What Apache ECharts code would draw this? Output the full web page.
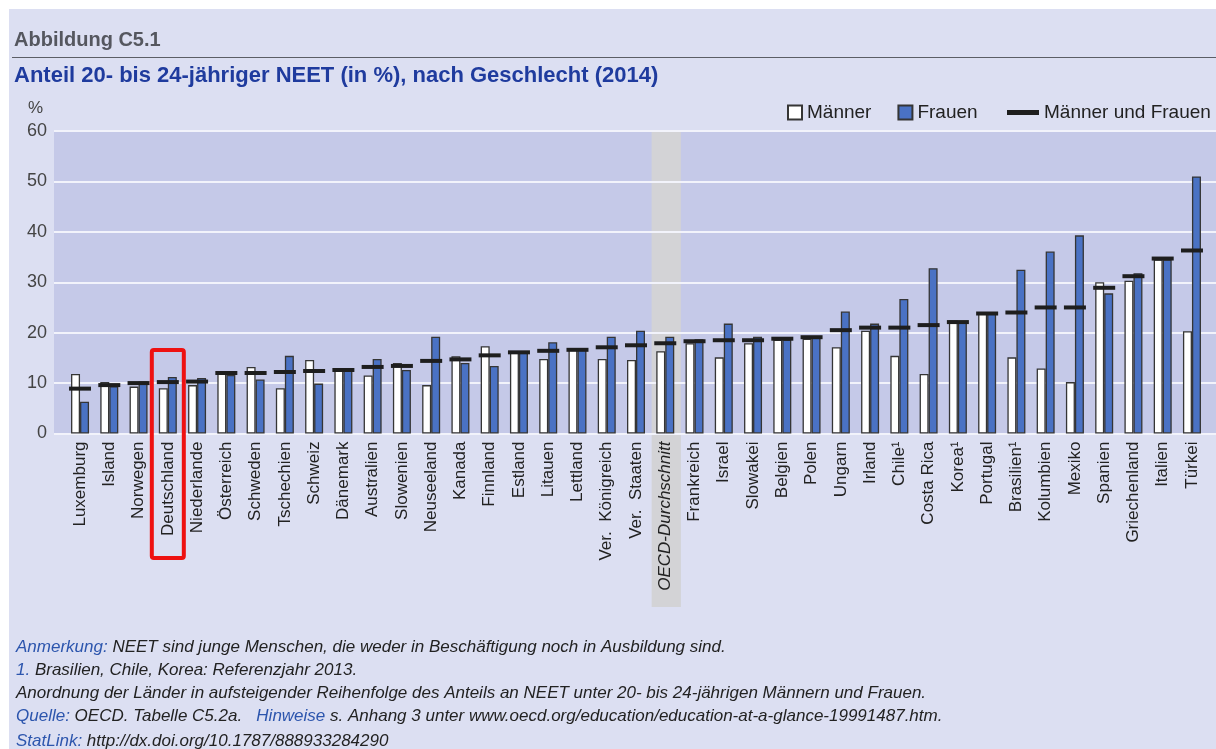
<!DOCTYPE html>
<html>
<head>
<meta charset="utf-8">
<script src="https://cdn.jsdelivr.net/npm/echarts@6/dist/echarts.min.js"></script>
<style>
  html, body { margin: 0; padding: 0; background: #fff; }
  .wrap { position: relative; width: 1216px; height: 749px; overflow: hidden; }
  .paper { position: absolute; left: 9px; top: 9px; right: 0; bottom: 0; background: #dcdff2; }
  #chart { position: absolute; left: 0; top: 0; width: 1216px; height: 749px; }
</style>
</head>
<body>
<div class="wrap">
  <div class="paper"></div>
  <div id="chart"></div>
</div>
<script>
  // Länder, aufsteigend nach Anteil NEET (Männer und Frauen)
  const laender = ['Luxemburg', 'Island', 'Norwegen', 'Deutschland', 'Niederlande', 'Österreich', 'Schweden',
    'Tschechien', 'Schweiz', 'Dänemark', 'Australien', 'Slowenien', 'Neuseeland', 'Kanada', 'Finnland',
    'Estland', 'Litauen', 'Lettland', 'Ver.  Königreich', 'Ver.  Staaten', 'OECD-Durchschnitt', 'Frankreich',
    'Israel', 'Slowakei', 'Belgien', 'Polen', 'Ungarn', 'Irland', 'Chile¹', 'Costa Rica', 'Korea¹',
    'Portugal', 'Brasilien¹', 'Kolumbien', 'Mexiko', 'Spanien', 'Griechenland', 'Italien', 'Türkei']
  const maenner = [11.8, 10.2, 9.3, 9.0, 9.6, 12.2, 13.2, 9.0, 14.6, 12.5, 11.5, 14.0, 9.6, 15.3, 17.3,
    16.1, 14.8, 16.6, 14.8, 14.6, 16.3, 17.9, 15.1, 17.9, 18.6, 18.8, 17.1, 20.4, 15.4, 11.8, 22.4,
    23.8, 15.1, 12.9, 10.2, 30.0, 30.3, 34.5, 20.3]
  const frauen = [6.3, 9.4, 10.3, 11.2, 11.0, 11.6, 10.7, 15.4, 9.9, 12.5, 14.8, 12.6, 19.2, 14.0, 13.4,
    16.1, 18.1, 16.6, 19.2, 20.4, 19.2, 18.7, 21.8, 19.2, 18.6, 19.2, 24.2, 21.8, 26.7, 32.8, 22.0,
    23.8, 32.5, 36.1, 39.3, 27.8, 31.8, 34.5, 51.0]
  const gesamt = [8.9, 9.6, 10.0, 10.2, 10.3, 12.0, 12.0, 12.2, 12.4, 12.6, 13.2, 13.4, 14.4, 14.7, 15.5,
    16.1, 16.4, 16.6, 17.1, 17.5, 17.9, 18.3, 18.5, 18.5, 18.8, 19.1, 20.5, 21.0, 21.0, 21.5, 22.1,
    23.8, 24.0, 25.0, 25.0, 28.9, 31.2, 34.7, 36.3]
  const yMin = 0
  const yMax = 60
  const yStep = 10

  const sans = '"Liberation Sans", Arial, sans-serif'
  const blau = '#4a72c4'
  const textBlau = '#2c55ad'

  const chart = echarts.init(document.getElementById('chart'), null, { renderer: 'canvas' })

  const option = {
    backgroundColor: 'transparent',
    animation: false,
    textStyle: { fontFamily: sans },
    grid: [
      // Hintergrund + Gitterlinien (volle Breite)
      { left: 54, right: 0, top: 131, height: 302.5, show: true, backgroundColor: '#c5c9e8', borderWidth: 0, z: 0 },
      // Balken
      { left: 65.4, width: 1141.2, top: 131, height: 302.5, z: 3 }
    ],
    xAxis: [
      { gridIndex: 0, type: 'value', min: 0, max: 1, show: false },
      {
        gridIndex: 1,
        type: 'category',
        data: laender,
        z: 3,
        axisLine: { show: false },
        axisTick: { show: false },
        axisLabel: {
          interval: 0,
          rotate: 90,
          margin: 8,
          fontSize: 17,
          color: '#222',
          fontFamily: sans,
          formatter: function(v) {
            return v === 'OECD-Durchschnitt' ? '{i|' + v + '}' : v
          },
          rich: { i: { fontStyle: 'italic', fontSize: 17, color: '#222', fontFamily: sans } }
        }
      }
    ],
    yAxis: [
      {
        gridIndex: 0,
        type: 'value',
        min: yMin,
        max: yMax,
        interval: yStep,
        z: 2,
        axisLine: { show: false },
        axisTick: { show: false },
        axisLabel: { fontSize: 18, color: '#444', margin: 7, fontFamily: sans },
        splitLine: { lineStyle: { color: '#f2f3fb', width: 2 } }
      },
      { gridIndex: 1, type: 'value', min: yMin, max: yMax, show: false }
    ],
    legend: [
      {
        data: ['Männer', 'Frauen'],
        left: 782,
        top: 98,
        icon: 'rect',
        itemWidth: 14,
        itemHeight: 14,
        itemGap: 26,
        textStyle: { fontSize: 19, color: '#222', fontFamily: sans }
      },
      {
        data: ['Männer und Frauen'],
        left: 1002,
        top: 98,
        icon: 'rect',
        itemWidth: 32,
        itemHeight: 5,
        textStyle: { fontSize: 19, color: '#222', fontFamily: sans }
      }
    ],
    series: [
      {
        name: 'Männer',
        type: 'bar',
        xAxisIndex: 1,
        yAxisIndex: 1,
        data: maenner,
        barWidth: 9,
        barGap: '0%',
        z: 3,
        itemStyle: { color: '#ffffff', borderColor: '#353535', borderWidth: 1.3 }
      },
      {
        name: 'Frauen',
        type: 'bar',
        xAxisIndex: 1,
        yAxisIndex: 1,
        data: frauen,
        barWidth: 9,
        barGap: '0%',
        z: 3,
        itemStyle: { color: blau, borderColor: '#353535', borderWidth: 1.3 }
      },
      {
        name: 'Männer und Frauen',
        type: 'scatter',
        xAxisIndex: 1,
        yAxisIndex: 1,
        data: gesamt,
        symbol: 'rect',
        symbolSize: [22, 4],
        z: 4,
        itemStyle: { color: '#1e1e1e', opacity: 1 }
      }
    ]
  }
  chart.setOption(option)

  // Schmuck: OECD-Band, Markierung Deutschland, Titel, Anmerkungen
  const catW = 1141.2 / laender.length
  const oecdX = chart.convertToPixel({ xAxisIndex: 1 }, 'OECD-Durchschnitt')
  const deX = chart.convertToPixel({ xAxisIndex: 1 }, 'Deutschland')
  const topY = chart.convertToPixel({ yAxisIndex: 0 }, yMax)

  const footFont = 'italic 17px ' + sans
  const foot = [
    '{b|Anmerkung:} NEET sind junge Menschen, die weder in Beschäftigung noch in Ausbildung sind.',
    '{b|1.} Brasilien, Chile, Korea: Referenzjahr 2013.',
    'Anordnung der Länder in aufsteigender Reihenfolge des Anteils an NEET unter 20- bis 24-jährigen Männern und Frauen.',
    '{b|Quelle:} OECD. Tabelle C5.2a.   {b|Hinweise} s. Anhang 3 unter www.oecd.org/education/education-at-a-glance-19991487.htm.',
    '{b|StatLink:} http://dx.doi.org/10.1787/888933284290'
  ]
  const footY = [647, 670, 693, 716, 741]

  const graphics = [
    {
      type: 'rect',
      z: 1,
      silent: true,
      shape: { x: oecdX - catW / 2 + 1, y: topY, width: catW, height: 607 - topY },
      style: { fill: '#d3d3d6' }
    },
    {
      type: 'rect',
      z: 20,
      silent: true,
      shape: { x: deX - 16, y: 350, width: 32, height: 208, r: 2 },
      style: { fill: 'none', stroke: '#ee1111', lineWidth: 4 }
    },
    {
      type: 'text',
      z: 20,
      style: { x: 14, y: 40, text: 'Abbildung C5.1', font: 'bold 20px ' + sans, fill: '#55575f', verticalAlign: 'middle' }
    },
    {
      type: 'line',
      z: 20,
      shape: { x1: 12, y1: 57.5, x2: 1216, y2: 57.5 },
      style: { stroke: '#5c5e66', lineWidth: 1 }
    },
    {
      type: 'text',
      z: 20,
      style: {
        x: 14,
        y: 76,
        text: 'Anteil 20- bis 24-jähriger NEET (in %), nach Geschlecht (2014)',
        font: 'bold 22px ' + sans,
        fill: '#1f3b9e',
        verticalAlign: 'middle'
      }
    },
    {
      type: 'text',
      z: 20,
      style: { x: 28, y: 108, text: '%', font: '17px ' + sans, fill: '#444', verticalAlign: 'middle' }
    }
  ]
  foot.forEach(function(t, i) {
    graphics.push({
      type: 'text',
      z: 20,
      style: {
        x: 16,
        y: footY[i],
        text: t,
        font: footFont,
        fill: '#222',
        verticalAlign: 'middle',
        rich: { b: { fill: textBlau, font: footFont } }
      }
    })
  })
  chart.setOption({ graphic: graphics })
</script>
</body>
</html>
